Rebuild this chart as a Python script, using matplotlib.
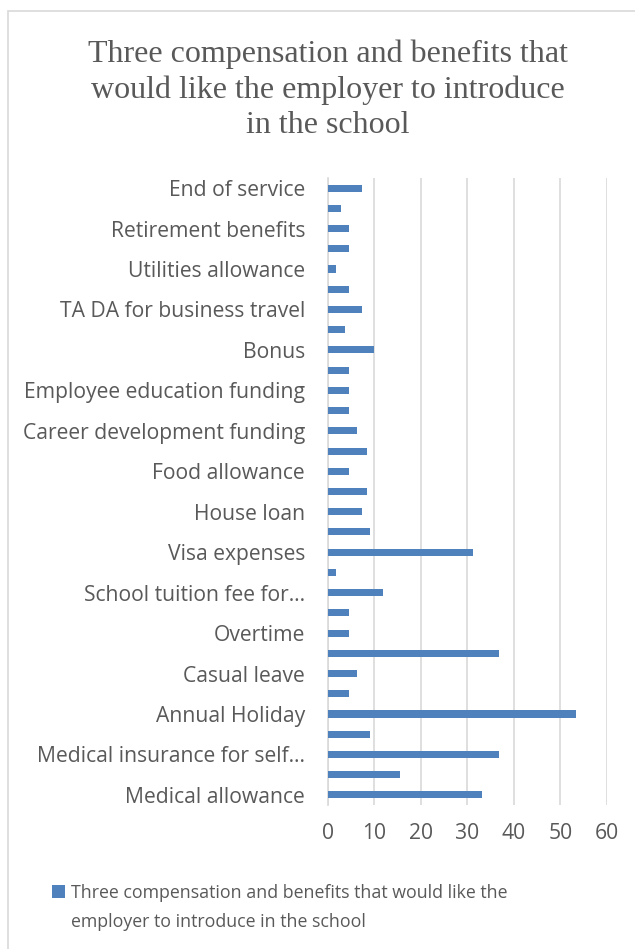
import numpy as np
import matplotlib.pyplot as plt
from matplotlib.patches import Rectangle

# bars listed bottom to top; only every other category is labelled on the axis
labels = ["Medical allowance", "", "Medical insurance for self…", "", "Annual Holiday", "",
          "Casual leave", "", "Overtime", "", "School tuition fee for…", "",
          "Visa expenses", "", "House loan", "", "Food allowance", "",
          "Career development funding", "", "Employee education funding", "",
          "Bonus", "", "TA DA for business travel", "", "Utilities allowance", "",
          "Retirement benefits", "", "End of service"]
values = [33.1, 15.5, 36.8, 9.1, 53.4, 4.5, 6.3, 36.8, 4.5, 4.5, 11.9, 1.8,
          31.2, 9.1, 7.3, 8.3, 4.5, 8.3, 6.3, 4.5, 4.5, 4.5, 10.0, 3.7,
          7.3, 4.5, 1.8, 4.5, 4.5, 2.7, 7.3]
series = ["Three compensation and benefits that would like the",
          "employer to introduce in the school"]
title = "Three compensation and benefits that\nwould like the employer to introduce\nin the school"

grey = "#595959"
blue = "#4F81BD"

fig = plt.figure(figsize=(6.35, 9.49), dpi=100)
fig.patches.append(Rectangle((8 / 635, -0.1), 1.2, 1 - 11 / 949 + 0.1,
                             transform=fig.transFigure, fill=False,
                             edgecolor="#d9d9d9", lw=1.2))

ax = fig.add_axes([328 / 635, 1 - 805 / 949, 278.7 / 635, 627 / 949])
y = np.arange(len(values))
ax.barh(y, values, height=0.35, color=blue, label=series[0], zorder=3)

ax.set_xlim(0, 60)
ax.set_ylim(-0.5, len(values) - 0.5)
ax.set_xticks(range(0, 61, 10))
ax.set_yticks(y[::2])
ax.set_yticklabels(labels[::2])
ax.grid(axis="x", color="#d9d9d9", lw=1.2, zorder=0)
for s in ["top", "right", "bottom"]:
    ax.spines[s].set_visible(False)
ax.spines["left"].set_color("#d9d9d9")
ax.spines["left"].set_linewidth(1.2)
ax.tick_params(axis="both", colors=grey, labelsize=15.2, length=0)
ax.tick_params(axis="y", pad=16.5)
ax.tick_params(axis="x", pad=13)
for t in ax.get_xticklabels() + ax.get_yticklabels():
    t.set_fontfamily("Open Sans")

fig.text(328 / 635, 1 - 90 / 949, title, ha="center", va="center",
         family="Liberation Serif", fontsize=23, color=grey, linespacing=1.27)

# legend entry wraps onto a second line under the label text
leg = fig.legend(loc="upper left", bbox_to_anchor=(36 / 635, 1 - 868 / 949),
                 frameon=False, handlelength=0.75, handleheight=0.75,
                 handletextpad=0.3, prop={"family": "Open Sans", "size": 12.8})
for t in leg.get_texts():
    t.set_color(grey)
fig.canvas.draw()
bb = leg.get_texts()[0].get_window_extent()
x0, y0 = fig.transFigure.inverted().transform((bb.x0, bb.y0))
fig.text(x0, y0 - 29 / 949, series[1], ha="left", va="bottom",
         family="Open Sans", fontsize=12.8, color=grey)

fig.savefig("out.png", dpi=100)
